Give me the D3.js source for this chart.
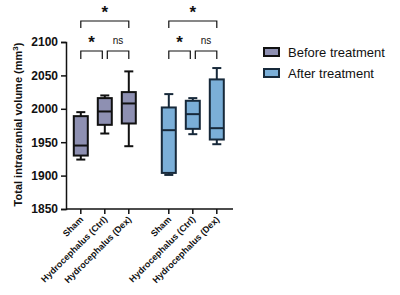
<!DOCTYPE html>
<html>
<head>
<meta charset="utf-8">
<script src="https://cdn.jsdelivr.net/npm/d3@7"></script>
<style>
  body { margin: 0; background: #fff; }
  text { font-family: "Liberation Sans", Arial, sans-serif; }
</style>
</head>
<body>
<div id="chart"></div>
<script>
// data
const groups = ["Before treatment", "After treatment"];
const categories = ["Sham", "Hydrocephalus (Ctrl)", "Hydrocephalus (Dex)"];
// [min, q1, median, q3, max] per category
const beforeStats = [
  [1924, 1930, 1945, 1989, 1995],
  [1963, 1976, 1996, 2016, 2020],
  [1944, 1978, 2008, 2025, 2056]
];
const afterStats = [
  [1901, 1904, 1968, 2002, 2022],
  [1962, 1970, 1992, 2012, 2016],
  [1947, 1954, 1971, 2044, 2061]
];
const yTicks = [1850, 1900, 1950, 2000, 2050, 2100];
const fills = ["#8e90b2", "#7bafd8"];
const strokes = ["#111111", "#17293a"];

var width = 400, height = 295;
var margin = { top: 42, left: 66, bottom: 86 };
var plotH = height - margin.top - margin.bottom;

var svg = d3.select("#chart").append("svg")
  .attr("width", width)
  .attr("height", height);

// y scale
var y = d3.scaleLinear().domain([1850, 2100]).range([margin.top + plotH, margin.top]);

// x: one point per group, categories spread inside
var xGroup = d3.scalePoint().domain(groups).range([104.8, 192.8]);
var xCat = d3.scalePoint().domain(categories).range([-24, 24]);

var allData = [];
groups.forEach(function (g, gi) {
  var stats = gi === 0 ? beforeStats : afterStats;
  categories.forEach(function (c, ci) {
    allData.push({ group: g, gi: gi, cat: c, s: stats[ci], x: xGroup(g) + xCat(c) });
  });
});

// y axis
svg.append("g")
  .attr("transform", "translate(" + margin.left + ",0)")
  .call(d3.axisLeft(y).tickValues(yTicks).tickSize(5).tickPadding(3).tickFormat(d3.format("d")))
  .call(function (g) {
    g.select(".domain").attr("stroke", "#111").attr("stroke-width", 1.5);
    g.selectAll(".tick line").attr("stroke", "#111").attr("stroke-width", 1.5);
    g.selectAll(".tick text").style("font-size", "12px").style("font-weight", "bold")
      .style("font-family", "Liberation Sans, Arial, sans-serif").attr("fill", "#111");
  });

// y title
svg.append("text")
  .attr("transform", "rotate(-90)")
  .attr("x", -(margin.top + plotH / 2) + 1)
  .attr("y", 22)
  .style("text-anchor", "middle")
  .style("font-size", "11px")
  .style("font-weight", "bold")
  .attr("fill", "#111")
  .text("Total intracranial volume (mm")
  .append("tspan").attr("baseline-shift", "super").style("font-size", "8px").text("3")
  .select(function () { return this.parentNode; })
  .append("tspan").text(")");

// x axis line
var x0 = margin.left, x1 = 233, yBase = y(1850);
svg.append("line")
  .attr("x1", x0).attr("x2", x1).attr("y1", yBase).attr("y2", yBase)
  .attr("stroke", "#111").attr("stroke-width", 1.5);

svg.selectAll(".xtick").data(allData).enter().append("line")
  .attr("x1", d => d.x).attr("x2", d => d.x)
  .attr("y1", yBase).attr("y2", yBase + 5)
  .attr("stroke", "#111").attr("stroke-width", 1.5);

svg.selectAll(".xlab").data(allData).enter().append("text")
  .attr("transform", d => "translate(" + (d.x + 3) + "," + (yBase + 11) + ") rotate(-45)")
  .style("text-anchor", "end")
  .style("font-size", "9px")
  .style("font-weight", "bold")
  .attr("fill", "#111")
  .text(d => d.cat);

// boxes
var boxW = 14, capW = 9;
var box = svg.selectAll(".box").data(allData).enter().append("g");

box.append("line") // whisker
  .attr("x1", d => d.x).attr("x2", d => d.x)
  .attr("y1", d => y(d.s[0])).attr("y2", d => y(d.s[4]))
  .attr("stroke", d => strokes[d.gi]).attr("stroke-width", 2);
box.append("line") // top cap
  .attr("x1", d => d.x - capW / 2).attr("x2", d => d.x + capW / 2)
  .attr("y1", d => y(d.s[4])).attr("y2", d => y(d.s[4]))
  .attr("stroke", d => strokes[d.gi]).attr("stroke-width", 2);
box.append("line") // bottom cap
  .attr("x1", d => d.x - capW / 2).attr("x2", d => d.x + capW / 2)
  .attr("y1", d => y(d.s[0])).attr("y2", d => y(d.s[0]))
  .attr("stroke", d => strokes[d.gi]).attr("stroke-width", 2);
box.append("rect")
  .attr("x", d => d.x - boxW / 2).attr("width", boxW)
  .attr("y", d => y(d.s[3])).attr("height", d => y(d.s[1]) - y(d.s[3]))
  .attr("fill", d => fills[d.gi]).attr("stroke", d => strokes[d.gi]).attr("stroke-width", 2);
box.append("line") // median
  .attr("x1", d => d.x - boxW / 2).attr("x2", d => d.x + boxW / 2)
  .attr("y1", d => y(d.s[2])).attr("y2", d => y(d.s[2]))
  .attr("stroke", d => strokes[d.gi]).attr("stroke-width", 2);

// significance brackets
function bracket(xa, xb, yTop, h, label, isStar) {
  svg.append("path")
    .attr("d", "M" + xa + "," + (yTop + h) + "V" + yTop + "H" + xb + "V" + (yTop + h))
    .attr("fill", "none").attr("stroke", "#111").attr("stroke-width", 1.2);
  svg.append("text")
    .attr("x", (xa + xb) / 2)
    .attr("y", isStar ? yTop - 3 : yTop - 7)
    .style("text-anchor", "middle")
    .style("font-size", isStar ? "17px" : "10px")
    .style("font-weight", isStar ? "bold" : "normal")
    .attr("fill", "#111")
    .text(label);
}
groups.forEach(function (g) {
  var xs = categories.map(c => xGroup(g) + xCat(c));
  bracket(xs[0], xs[2], 21, 7, "*", true);
  bracket(xs[0], xs[1] - 2.5, 51, 8, "*", true);
  bracket(xs[1] + 2.5, xs[2], 51, 8, "ns", false);
});

// legend
var legend = svg.selectAll(".legend").data(groups).enter().append("g")
  .attr("transform", (d, i) => "translate(264," + (48 + i * 21) + ")");
legend.append("rect")
  .attr("width", 15).attr("height", 8)
  .attr("fill", (d, i) => fills[i]).attr("stroke", (d, i) => strokes[i]).attr("stroke-width", 2);
legend.append("text")
  .attr("x", 24).attr("y", 9)
  .style("font-size", "13px")
  .attr("fill", "#111")
  .text(d => d);
</script>
</body>
</html>
